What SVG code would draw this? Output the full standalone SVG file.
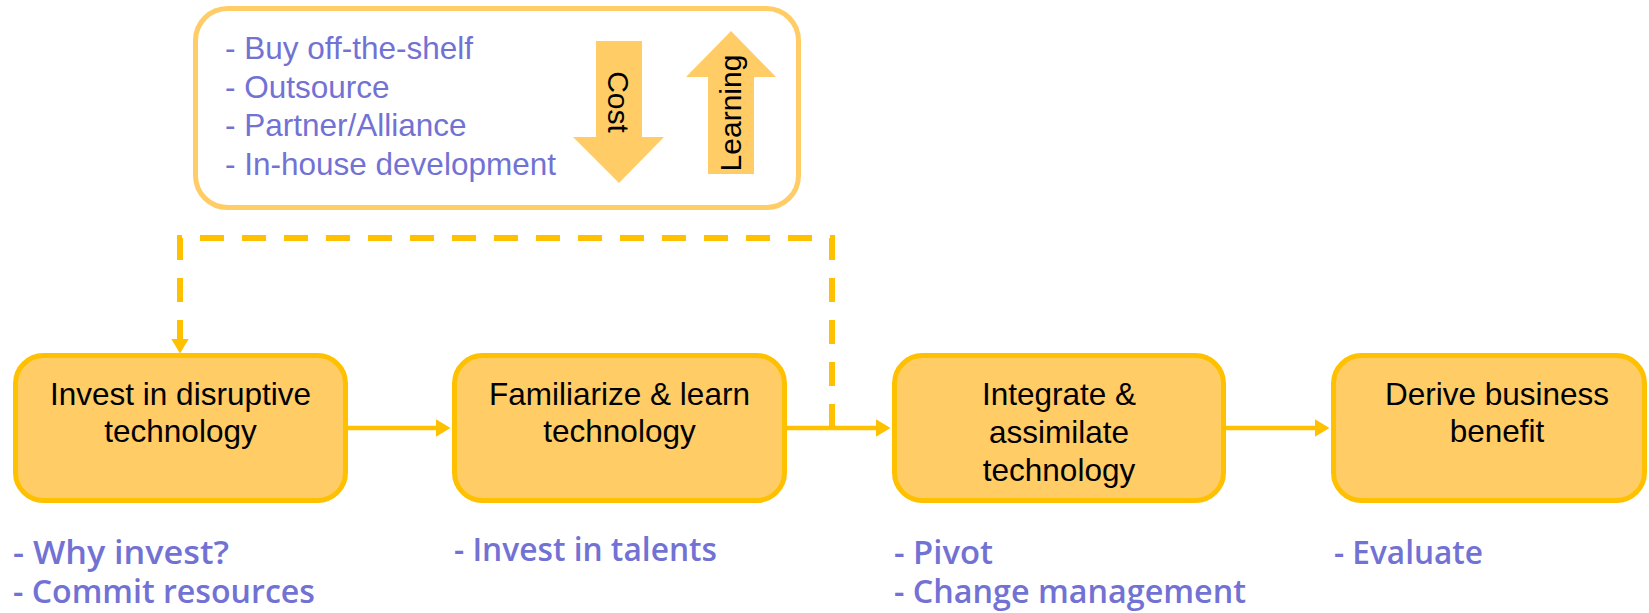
<svg xmlns="http://www.w3.org/2000/svg" width="1649" height="613" viewBox="0 0 1649 613">
  <style>
    .node { fill: #FFCC66; stroke: #FFC000; stroke-width: 5; }
    .ntxt { font-family: "Liberation Sans", Arial, sans-serif; font-size: 31.5px; fill: #000000; text-anchor: middle; }
    .opt { font-family: "Liberation Sans", Arial, sans-serif; font-size: 31.5px; fill: #7272D4; }
    .note { font-family: "Open Sans", "Lato", sans-serif; font-size: 32px; font-weight: 600; fill: #7272D4; }
    .conn { fill: none; stroke: #FFC000; stroke-width: 4.5; }
    .dash { fill: none; stroke: #FFC000; stroke-width: 6; stroke-dasharray: 24 18; }
    .bigarrow { fill: #FFCC66; }
    .atxt { font-family: "Liberation Sans", Arial, sans-serif; font-size: 30px; fill: #000000; text-anchor: middle; }
  </style>
  <defs>
    <marker id="head" markerUnits="userSpaceOnUse" markerWidth="16" markerHeight="18" refX="0.5" refY="9" orient="auto" viewBox="0 0 16 18">
      <path d="M0,0 L15,9 L0,18 z" fill="#FFC000"/>
    </marker>
  </defs>

  <g id="options-box">
    <rect x="195.5" y="8.5" width="603" height="199" rx="32" ry="32" fill="#FFFFFF" stroke="#FFCC66" stroke-width="5"/>
    <text class="opt" x="225" y="59">- Buy off-the-shelf</text>
    <text class="opt" x="225" y="97.5">- Outsource</text>
    <text class="opt" x="225" y="136">- Partner/Alliance</text>
    <text class="opt" x="225" y="174.5">- In-house development</text>
    <g id="cost-arrow">
      <polygon class="bigarrow" points="596,41 642,41 642,137 664,137 619,183 573,137 596,137"/>
      <text class="atxt" transform="translate(608,102) rotate(90)">Cost</text>
    </g>
    <g id="learning-arrow">
      <polygon class="bigarrow" points="731,31 776,77 754,77 754,174 708,174 708,77 686,77"/>
      <text class="atxt" transform="translate(741,113) rotate(-90)">Learning</text>
    </g>
  </g>

  <g id="connectors">
    <path class="conn" d="M348,428 H436" marker-end="url(#head)"/>
    <path class="conn" d="M787,428 H876" marker-end="url(#head)"/>
    <path class="conn" d="M1226,428 H1315" marker-end="url(#head)"/>
    <path class="dash" d="M832,428 V238 H180 V339" marker-end="url(#head)"/>
  </g>

  <g id="node1">
    <rect class="node" x="15.5" y="355.5" width="330" height="145" rx="28" ry="28"/>
    <text class="ntxt" x="180.5" y="405">Invest in disruptive</text>
    <text class="ntxt" x="180.5" y="442">technology</text>
  </g>
  <g id="node2">
    <rect class="node" x="454.5" y="355.5" width="330" height="145" rx="28" ry="28"/>
    <text class="ntxt" x="619.5" y="405">Familiarize &amp; learn</text>
    <text class="ntxt" x="619.5" y="442">technology</text>
  </g>
  <g id="node3">
    <rect class="node" x="894.5" y="355.5" width="329" height="145" rx="28" ry="28"/>
    <text class="ntxt" x="1059" y="405">Integrate &amp;</text>
    <text class="ntxt" x="1059" y="443">assimilate</text>
    <text class="ntxt" x="1059" y="481">technology</text>
  </g>
  <g id="node4">
    <rect class="node" x="1333.5" y="355.5" width="311" height="145" rx="28" ry="28"/>
    <text class="ntxt" x="1497" y="405">Derive business</text>
    <text class="ntxt" x="1497" y="442">benefit</text>
  </g>

  <g id="notes">
    <text class="note" x="13" y="564" textLength="216" lengthAdjust="spacingAndGlyphs">- Why invest?</text>
    <text class="note" x="13" y="603" textLength="302" lengthAdjust="spacingAndGlyphs">- Commit resources</text>
    <text class="note" x="454" y="561" textLength="263" lengthAdjust="spacingAndGlyphs">- Invest in talents</text>
    <text class="note" x="894" y="564" textLength="99" lengthAdjust="spacingAndGlyphs">- Pivot</text>
    <text class="note" x="894" y="603" textLength="352" lengthAdjust="spacingAndGlyphs">- Change management</text>
    <text class="note" x="1334" y="564" textLength="149" lengthAdjust="spacingAndGlyphs">- Evaluate</text>
  </g>
</svg>
